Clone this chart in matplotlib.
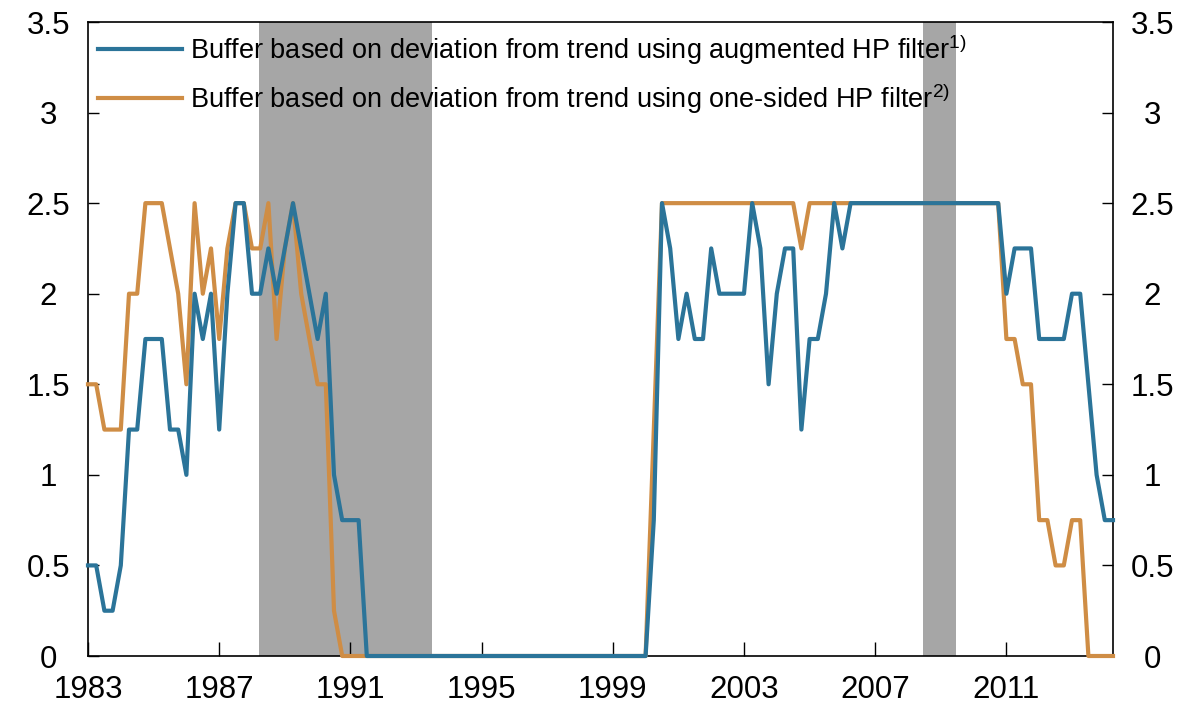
import numpy as np
import matplotlib
matplotlib.use('Agg')
import matplotlib.pyplot as plt

plt.rcParams['font.family'] = ['Liberation Sans', 'DejaVu Sans']
plt.rcParams['mathtext.default'] = 'regular'

# quarterly data, 1983Q1 - 2014Q2
start_year = 1983
augmented_hp = [0.5, 0.5, 0.25, 0.25, 0.5, 1.25, 1.25, 1.75, 1.75, 1.75,
                1.25, 1.25, 1.0, 2.0, 1.75, 2.0, 1.25, 2.0, 2.5, 2.5,
                2.0, 2.0, 2.25, 2.0, 2.25, 2.5, 2.25, 2.0, 1.75, 2.0,
                1.0, 0.75, 0.75, 0.75] + [0] * 35 + \
               [0.75, 2.5, 2.25, 1.75, 2.0, 1.75, 1.75, 2.25, 2.0, 2.0,
                2.0, 2.0, 2.5, 2.25, 1.5, 2.0, 2.25, 2.25, 1.25, 1.75,
                1.75, 2.0, 2.5, 2.25] + [2.5] * 19 + \
               [2.0, 2.25, 2.25, 2.25, 1.75, 1.75, 1.75, 1.75, 2.0, 2.0,
                1.5, 1.0, 0.75, 0.75]
one_sided_hp = [1.5, 1.5, 1.25, 1.25, 1.25, 2.0, 2.0, 2.5, 2.5, 2.5,
                2.25, 2.0, 1.5, 2.5, 2.0, 2.25, 1.75, 2.25, 2.5, 2.5,
                2.25, 2.25, 2.5, 1.75, 2.25, 2.5, 2.0, 1.75, 1.5, 1.5,
                0.25] + [0] * 38 + \
               [1.25] + [2.5] * 17 + [2.25] + [2.5] * 24 + \
               [1.75, 1.75, 1.5, 1.5, 0.75, 0.75, 0.5, 0.5, 0.75, 0.75,
                0, 0, 0, 0]

crisis_periods = [(1988.2, 1993.5), (2008.45, 2009.45)]
x_ticks = [1983, 1987, 1991, 1995, 1999, 2003, 2007, 2011]
y_ticks = [0, 0.5, 1, 1.5, 2, 2.5, 3, 3.5]
y_labels = ['0', '0.5', '1', '1.5', '2', '2.5', '3', '3.5']

labels = ['Buffer based on deviation from trend using augmented HP filter$^{1)}$',
          'Buffer based on deviation from trend using one-sided HP filter$^{2)}$']
blue = '#2B7499'
orange = '#CF8D45'

x = start_year + np.arange(len(augmented_hp)) / 4.0

fig = plt.figure(figsize=(11.94, 7.13), dpi=100)
ax = fig.add_axes([88/1194, 57/713, 1025/1194, 634/713])

for a, b in crisis_periods:
    ax.axvspan(a, b, color='#A6A6A6', lw=0, zorder=0)

l1, = ax.plot(x, augmented_hp, color=blue, lw=3, zorder=4, clip_on=False,
              solid_joinstyle='round')
l2, = ax.plot(x, one_sided_hp, color=orange, lw=3, zorder=3, clip_on=False,
              solid_joinstyle='round')

ax.set_xlim(start_year, x[-1])
ax.set_ylim(0, 3.5)
ax.set_xticks(x_ticks)
ax.set_xticklabels([str(t) for t in x_ticks])
ax.set_yticks(y_ticks)
ax.set_yticklabels(y_labels)
ax.tick_params(axis='both', direction='in', labelsize=22.5, width=1, length=8)
ax.tick_params(axis='x', pad=14, length=10)
ax.tick_params(axis='y', right=True, labelright=True, pad=28.5)
# y labels centred in the margin, as in the original
for t in ax.get_yticklabels(which='both'):
    t.set_horizontalalignment('center')
for t in ax.yaxis.get_ticklabels(minor=False):
    t.set_horizontalalignment('center')
for tick in ax.yaxis.get_major_ticks():
    tick.label1.set_horizontalalignment('center')
    tick.label2.set_horizontalalignment('center')
for s in ax.spines.values():
    s.set_linewidth(1.2)

leg = ax.legend([l1, l2], labels, loc='upper left', frameon=False,
                prop={'size': 19.5},
                handlelength=3.1, handletextpad=0.3, labelspacing=0.55,
                bbox_to_anchor=(0.0, 1.0), borderaxespad=0.0, borderpad=0.37)

fig.savefig('out.png', dpi=100)
